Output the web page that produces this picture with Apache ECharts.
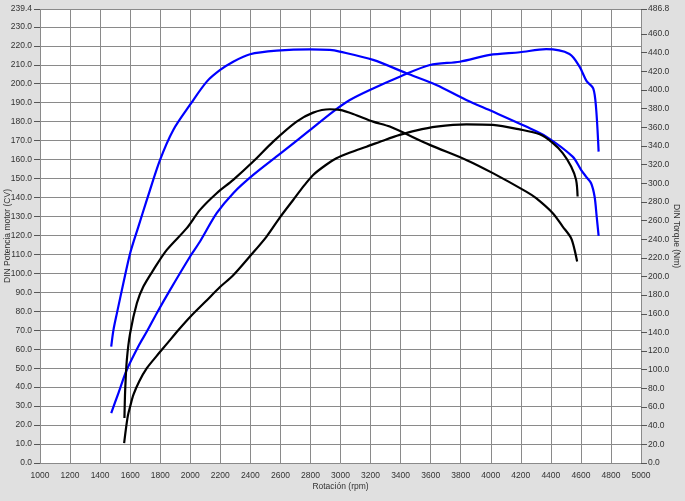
<!DOCTYPE html>
<html>
<head>
<meta charset="utf-8">
<script src="https://cdn.jsdelivr.net/npm/echarts@6/dist/echarts.min.js"></script>
<style>
html,body{margin:0;padding:0;background:#e0e0e0;}
#chart{width:685px;height:501px;}
</style>
</head>
<body>
<div id="chart"></div>
<script>
// Blue power curve (CV, left axis)
const rpmBluePower = [1474,1522,1578,1666,1711,1777,1866,1999,2065,2176,2286,2419,2597,2796,2951,3062,3195,3394,3595,3794,3994,4193,4369,4524,4591,4637,4682,4701,4718];
const bluePower    = [26.3,36.9,49.2,63.2,69.3,79.0,91.3,108.9,116.8,131.7,142.3,151.9,163.0,175.5,185.3,191.4,196.7,203.7,209.9,211.6,215.2,216.6,218.2,215.7,209.0,201.5,197.6,187.2,164.2];
// Blue torque curve (Nm, right axis)
const rpmBlueTorque = [1474,1489,1512,1555,1600,1655,1711,1799,1888,1999,2110,2199,2286,2398,2575,2796,2929,2995,3217,3439,3638,3837,4014,4236,4369,4545,4601,4634,4668,4691,4705,4718];
const blueTorque    = [124.9,142.8,160.7,192.9,225.0,253.5,282.1,325.0,357.4,384.2,408.9,421.4,430.3,438.3,442.1,443.6,442.9,441.1,432.2,417.9,405.4,389.3,376.8,360.7,350.0,328.5,314.3,307.1,300.0,285.7,264.3,243.6];
// Black power curve (CV, left axis)
const rpmBlackPower = [1560,1571,1585,1600,1622,1660,1711,1777,1844,1920,1999,2100,2198,2286,2397,2508,2597,2685,2760,2818,2900,2973,3073,3173,3300,3394,3500,3638,3837,4014,4193,4326,4412,4479,4535,4568,4578];
const blackPower    = [10.5,17.5,25.0,29.8,36.0,43.0,50.0,56.5,62.8,70.0,77.0,85.0,92.8,99.0,109.0,119.4,129.5,138.7,146.5,151.9,157.0,160.7,164.0,166.8,170.5,173.0,175.3,177.4,178.6,178.3,175.9,173.3,168.8,163.4,156.3,149.3,140.5];
// Black torque curve (Nm, right axis)
const rpmBlackTorque = [1562,1567,1578,1600,1645,1688,1755,1844,1977,2065,2176,2286,2419,2552,2708,2818,2929,2995,3084,3217,3328,3594,3837,4014,4236,4302,4413,4479,4535,4558,4575];
const blackTorque    = [48.2,78.5,110.7,139.3,171.5,189.2,207.1,228.5,251.8,271.4,289.3,303.6,323.2,344.6,366.0,375.7,379.3,378.6,374.3,366.0,360.7,341.1,325.0,310.8,291.0,284.0,267.9,253.5,241.1,228.5,216.0];
// Axis ticks
const rightTicks = [0,20,40,60,80,100,120,140,160,180,200,220,240,260,280,300,320,340,360,380,400,420,440,460,486.8];

const zip = (a,b) => a.map((v,i)=>[v,b[i]]);
const font = {fontFamily:'Liberation Sans, Arial, sans-serif', fontSize:8.5, color:'#333'};

const chart = echarts.init(document.getElementById('chart'));
const lineSeries = (yi, x, y, color) => ({
  type:'line', yAxisIndex:yi, data:zip(x,y), showSymbol:false, smooth:0.3,
  lineStyle:{color:color,width:2.2}
});
chart.setOption({
  backgroundColor:'#e0e0e0',
  animation:false,
  grid:{left:40,right:44,top:9,bottom:38,show:true,backgroundColor:'#fff',borderWidth:0,containLabel:false,outerBoundsMode:'none'},
  xAxis:{
    type:'value',min:1000,max:5000,interval:200,
    name:'Rotación (rpm)',nameLocation:'middle',nameGap:19,nameMoveOverlap:false,
    nameTextStyle:font,
    axisLine:{show:false},axisTick:{show:false},
    axisLabel:Object.assign({margin:8,formatter:v=>String(v)},font),
    splitLine:{show:true,lineStyle:{color:'#8a8a8a',width:1}}
  },
  yAxis:[{
    type:'value',min:0,max:239.4,interval:10,
    name:'DIN Potencia motor (CV)',nameLocation:'middle',nameGap:28,nameRotate:90,nameMoveOverlap:false,
    nameTextStyle:font,
    axisLine:{show:false},
    axisTick:{show:true,length:6,lineStyle:{color:'#555'}},
    axisLabel:Object.assign({margin:8,formatter:v=>v.toFixed(1)},font),
    splitLine:{show:true,lineStyle:{color:'#8a8a8a',width:1}}
  },{
    type:'value',min:0,max:486.8,position:'right',
    name:'DIN Torque (Nm)',nameLocation:'middle',nameGap:31,nameRotate:-90,nameMoveOverlap:false,
    nameTextStyle:font,
    axisLine:{show:false},
    axisTick:{show:true,length:6,lineStyle:{color:'#555'},customValues:rightTicks},
    axisLabel:Object.assign({margin:7,formatter:v=>v.toFixed(1),customValues:rightTicks},font),
    splitLine:{show:false}
  }],
  series:[
    lineSeries(0, rpmBluePower, bluePower, '#0000ff'),
    lineSeries(1, rpmBlueTorque, blueTorque, '#0000ff'),
    lineSeries(0, rpmBlackPower, blackPower, '#000000'),
    lineSeries(1, rpmBlackTorque, blackTorque, '#000000')
  ]
});
</script>
</body>
</html>
